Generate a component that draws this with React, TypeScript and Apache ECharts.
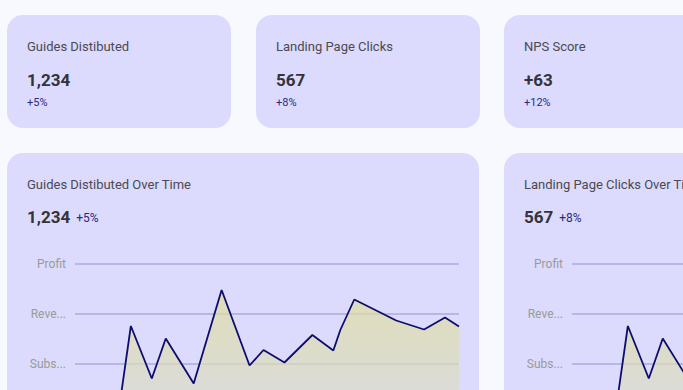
import React, { useEffect, useRef } from "react";
import * as echarts from "echarts";

// ---- data ----
const kpiTitles = ["Guides Distibuted", "Landing Page Clicks", "NPS Score"];
const kpiValues = ["1,234", "567", "+63"];
const kpiDeltas = ["+5%", "+8%", "+12%"];

const chartTitles = ["Guides Distibuted Over Time", "Landing Page Clicks Over Time"];
const chartValues = ["1,234", "567"];
const chartDeltas = ["+5%", "+8%"];

// y tick labels indexed by value level (lower levels are off the visible page)
const yTickLabels = ["", "", "Subscriptions", "Revenue", "Profit"];

const dates = [
  "2024-01-01", "2024-01-04", "2024-01-07", "2024-01-09", "2024-01-12",
  "2024-01-14", "2024-01-18", "2024-01-22", "2024-01-26", "2024-01-28",
  "2024-01-31", "2024-02-04", "2024-02-07", "2024-02-08", "2024-02-10",
  "2024-02-16", "2024-02-20", "2024-02-23", "2024-02-25",
];
const levels = [
  1.2, 0.9, 0.8, 2.76, 1.71,
  2.51, 1.61, 3.48, 1.97, 2.28,
  2.03, 2.58, 2.27, 2.68, 3.29,
  2.87, 2.69, 2.93, 2.75,
];

const FONT = "Roboto";
const CARD = "#dcdafd";

function textWidth(text: string, font: string) {
  const ctx = document.createElement("canvas").getContext("2d");
  if (!ctx) return text.length * 9;
  ctx.font = font;
  return ctx.measureText(text).width;
}

export default function App() {
  const ref = useRef<HTMLDivElement>(null);
  useEffect(() => {
    if (!ref.current) return;
    const chart = echarts.init(ref.current, undefined, { renderer: "svg" });

    const kpiX = [7, 256, 504];
    const chartX = [7, 504];
    const titleFont = `13px ${FONT}`;
    const valueFont = `bold 17px ${FONT}`;
    const graphics: any[] = [];
    kpiX.forEach((x, i) => {
      graphics.push({ type: "rect", x, y: 15, shape: { x: 0, y: 0, width: 224, height: 113, r: 16 }, style: { fill: CARD }, z: -10 });
      graphics.push({ type: "text", x: x + 20, y: 46, style: { text: kpiTitles[i], fill: "#4a4a52", font: titleFont, textVerticalAlign: "middle" } });
      graphics.push({ type: "text", x: x + 20, y: 80, style: { text: kpiValues[i], fill: "#333338", font: valueFont, textVerticalAlign: "middle" } });
      graphics.push({ type: "text", x: x + 20, y: 102, style: { text: kpiDeltas[i], fill: "#2a2a80", font: `11px ${FONT}`, textVerticalAlign: "middle" } });
    });
    chartX.forEach((x, i) => {
      const vw = textWidth(chartValues[i], valueFont);
      graphics.push({ type: "rect", x, y: 153, shape: { x: 0, y: 0, width: 472, height: 320, r: 16 }, style: { fill: CARD }, z: -10 });
      graphics.push({ type: "text", x: x + 20, y: 184, style: { text: chartTitles[i], fill: "#4a4a52", font: titleFont, textVerticalAlign: "middle" } });
      graphics.push({ type: "text", x: x + 20, y: 217, style: { text: chartValues[i], fill: "#333338", font: valueFont, textVerticalAlign: "middle" } });
      graphics.push({ type: "text", x: x + 20 + vw + 6, y: 218, style: { text: chartDeltas[i], fill: "#2a2a80", font: `12px ${FONT}`, textVerticalAlign: "middle" } });
    });

    const data = dates.map((d, i) => [d, levels[i]]);
    const gridLefts = [75, 572];

    chart.setOption({
      animation: false,
      backgroundColor: "#f8f8ff",
      textStyle: { fontFamily: FONT },
      graphic: { elements: graphics },
      grid: gridLefts.map((left) => ({ left, top: 264, width: 384, height: 200, containLabel: false })),
      xAxis: gridLefts.map((_, i) => ({
        type: "time",
        gridIndex: i,
        min: "dataMin",
        max: "dataMax",
        show: false,
        splitLine: { show: false },
      })),
      yAxis: gridLefts.map((_, i) => ({
        type: "value",
        gridIndex: i,
        min: 0,
        max: 4,
        interval: 1,
        axisLine: { show: false },
        axisTick: { show: false },
        axisLabel: {
          formatter: (v: number) => yTickLabels[Math.round(v)] || "",
          color: "#9a9a96",
          fontSize: 12,
          fontFamily: FONT,
          margin: 9,
          width: 38,
          overflow: "truncate",
        },
        splitLine: { lineStyle: { color: "#b8b6e6", width: 2 } },
      })),
      series: gridLefts.map((_, i) => ({
        type: "line",
        xAxisIndex: i,
        yAxisIndex: i,
        data,
        symbol: "none",
        lineStyle: { color: "#0d0d6e", width: 1.8 },
        areaStyle: {
          color: new echarts.graphic.LinearGradient(0, 0, 0, 1, [
            { offset: 0, color: "#dfdf9a" },
            { offset: 1, color: "#dadae6" },
          ]),
        },
      })),
    });
    return () => chart.dispose();
  }, []);

  return (
    <div style={{ position: "fixed", left: 0, top: 0, width: 683, height: 390, overflow: "hidden" }}>
      <div ref={ref} style={{ width: 1000, height: 480 }} />
    </div>
  );
}
